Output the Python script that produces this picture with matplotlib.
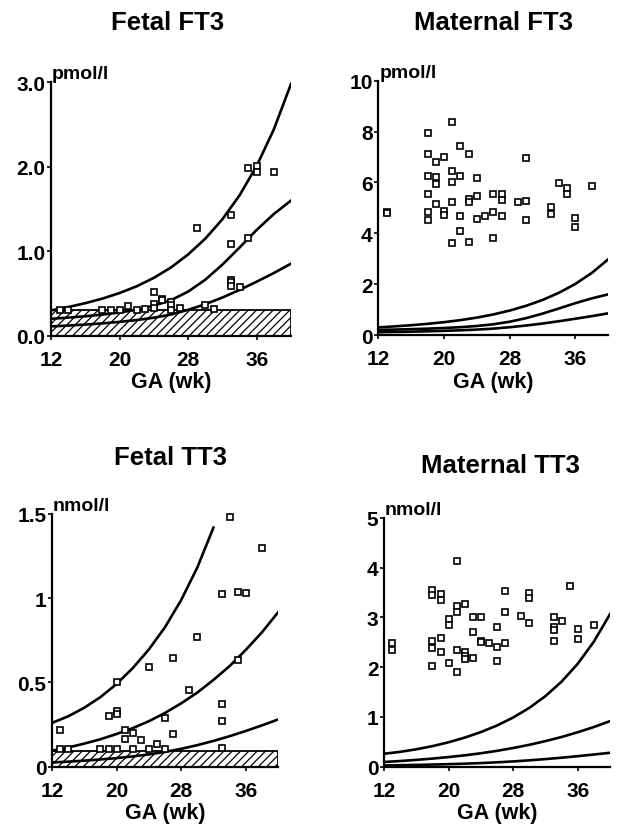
import matplotlib
matplotlib.use('Agg')
import matplotlib.pyplot as plt
from matplotlib.patches import Rectangle

plt.rcParams['font.family'] = ['Liberation Sans', 'DejaVu Sans']
plt.rcParams['font.weight'] = 'bold'
plt.rcParams['hatch.linewidth'] = 0.9

# reference curves (weeks of gestation)
curve_wk = [12, 14, 16, 18, 20, 22, 24, 26, 28, 30, 32, 34, 36, 38, 40]

ft3_hi = [0.30, 0.339, 0.385, 0.439, 0.505, 0.585, 0.685, 0.808, 0.962, 1.149, 1.379, 1.662, 2.011, 2.443, 2.981]
ft3_mid = [0.20, 0.214, 0.230, 0.250, 0.275, 0.308, 0.354, 0.421, 0.522, 0.663, 0.842, 1.044, 1.253, 1.441, 1.600]
ft3_lo = [0.11, 0.120, 0.132, 0.146, 0.164, 0.185, 0.213, 0.251, 0.306, 0.373, 0.452, 0.542, 0.640, 0.742, 0.853]

tt3_hi = [0.26, 0.299, 0.350, 0.413, 0.491, 0.585, 0.696, 0.828, 0.989, 1.182, 1.419, 1.710, 2.069, 2.514, 3.067]
tt3_mid = [0.095, 0.114, 0.137, 0.163, 0.194, 0.229, 0.270, 0.319, 0.376, 0.440, 0.515, 0.597, 0.693, 0.797, 0.916]
tt3_lo = [0.025, 0.030, 0.036, 0.043, 0.051, 0.061, 0.073, 0.088, 0.106, 0.128, 0.153, 0.181, 0.212, 0.245, 0.280]

# fetal upper TT3 curve is only drawn up to 32 wk
fetal_tt3_hi_end = 32

# normal (hatched) ranges
ft3_band = 0.30
tt3_band = 0.095

# fetal FT3 (pmol/l)
f_ft3_x = [13, 14, 18, 19, 20, 21, 22, 23, 24, 24, 24, 25, 25, 26, 26, 26, 27,
           29, 30, 31, 33, 33, 33, 33, 33, 34, 35, 35, 36, 36, 38]
f_ft3_y = [0.31, 0.31, 0.31, 0.31, 0.31, 0.35, 0.31, 0.32, 0.52, 0.37, 0.33, 0.44, 0.42,
           0.40, 0.36, 0.31, 0.33, 1.27, 0.36, 0.32, 1.43, 1.09, 0.66, 0.63, 0.59, 0.58,
           1.98, 1.16, 2.01, 1.94, 1.94]

# maternal FT3 (pmol/l)
m_ft3_x = [13, 13, 18, 18, 18, 18, 18, 18, 19, 19, 19, 19, 20, 20, 20,
           21, 21, 21, 21, 21, 22, 22, 22, 22, 23, 23, 23, 23, 24, 24, 24, 25,
           26, 26, 26, 27, 27, 27, 29, 30, 30, 30, 33, 33, 34, 35, 35, 36, 36, 38]
m_ft3_y = [4.82, 4.78, 7.93, 7.12, 6.26, 5.54, 4.82, 4.52, 6.79, 6.20, 5.94, 5.15, 6.99, 4.89, 4.73,
           8.36, 6.46, 6.00, 5.24, 3.60, 7.44, 6.26, 4.69, 4.08, 7.12, 5.35, 5.22, 3.64,
           6.16, 5.48, 4.56, 4.67, 5.54, 4.85, 3.80, 5.54, 5.29, 4.69, 5.22, 6.95, 5.26, 4.53,
           5.02, 4.76, 5.96, 5.78, 5.53, 4.60, 4.26, 5.86]

# fetal TT3 (nmol/l)
f_tt3_x = [13, 13, 14, 18, 19, 19, 20, 20, 20, 20, 21, 21, 22, 22, 23, 24, 24, 25,
           26, 26, 27, 27, 29, 30, 33, 33, 33, 33, 34, 35, 35, 36, 38]
f_tt3_y = [0.22, 0.105, 0.105, 0.105, 0.30, 0.105, 0.50, 0.33, 0.31, 0.105, 0.22, 0.165,
           0.20, 0.105, 0.16, 0.59, 0.105, 0.135, 0.29, 0.105, 0.645, 0.195, 0.455, 0.77,
           1.025, 0.37, 0.27, 0.11, 1.48, 1.035, 0.635, 1.03, 1.30]

# maternal TT3 (nmol/l)
m_tt3_x = [13, 13, 18, 18, 18, 18, 18, 19, 19, 19, 19, 20, 20, 20,
           21, 21, 21, 21, 21, 22, 22, 22, 22, 23, 23, 23, 24, 24, 24, 25,
           26, 26, 26, 27, 27, 27, 29, 30, 30, 30, 33, 33, 33, 33, 34, 35, 36, 36, 38]
m_tt3_y = [2.48, 2.35, 3.55, 3.45, 2.52, 2.39, 2.02, 3.47, 3.36, 2.59, 2.30, 2.97, 2.84, 2.08,
           4.13, 3.24, 3.12, 2.35, 1.90, 3.27, 2.30, 2.22, 2.16, 3.00, 2.70, 2.18,
           3.00, 2.53, 2.50, 2.49, 2.80, 2.41, 2.12, 3.54, 3.12, 2.49, 3.02, 3.49, 3.40, 2.89,
           3.00, 2.80, 2.75, 2.53, 2.92, 3.63, 2.77, 2.57, 2.84]

W, H = 623, 828
fig = plt.figure(figsize=(W / 100, H / 100), dpi=100, facecolor='white')


def px_axes(left, top, right, bottom):
    return fig.add_axes([left / W, 1 - bottom / H, (right - left) / W, (bottom - top) / H])


def style(ax, ymax, yticks, ylabels, unit):
    ax.set_xlim(12, 40)
    ax.set_ylim(0, ymax)
    ax.set_xticks([12, 20, 28, 36])
    ax.set_yticks(yticks)
    ax.set_yticklabels(ylabels)
    for s in ['top', 'right']:
        ax.spines[s].set_visible(False)
    for s in ['left', 'bottom']:
        ax.spines[s].set_linewidth(1.6)
    ax.tick_params(axis='both', direction='out', length=3, width=1.2, labelsize=15)
    ax.tick_params(axis='x', pad=7)
    ax.tick_params(axis='y', pad=1)
    ax.set_xlabel('GA (wk)', fontsize=15.5, fontweight='bold', labelpad=2)
    ax.annotate(unit, xy=(0, 1), xycoords='axes fraction', xytext=(1, 4),
                textcoords='offset pixels', ha='left', va='baseline', fontsize=14)


def curves(ax, hi, mid, lo, hi_end=40):
    n = curve_wk.index(hi_end) + 1
    ax.plot(curve_wk[:n], hi[:n], color='black', lw=1.9, zorder=2)
    ax.plot(curve_wk, mid, color='black', lw=1.9, zorder=2)
    ax.plot(curve_wk, lo, color='black', lw=1.9, zorder=2)


def points(ax, x, y):
    ax.plot(x, y, 's', ms=4.5, mfc='white', mec='black', mew=1.2, zorder=3, clip_on=False)


# Fetal FT3
ax1 = px_axes(51, 83.3, 291, 336.7)
ax1.add_patch(Rectangle((12, 0), 28, ft3_band, facecolor='none', edgecolor='black',
                        hatch='////', lw=1.3, zorder=1))
curves(ax1, ft3_hi, ft3_mid, ft3_lo)
points(ax1, f_ft3_x, f_ft3_y)
style(ax1, 3.0, [0, 1, 2, 3], ['0.0', '1.0', '2.0', '3.0'], 'pmol/l')

# Maternal FT3
ax2 = px_axes(378.3, 81.7, 608.3, 336)
curves(ax2, ft3_hi, ft3_mid, ft3_lo)
points(ax2, m_ft3_x, m_ft3_y)
style(ax2, 10, [0, 2, 4, 6, 8, 10], ['0', '2', '4', '6', '8', '10'], 'pmol/l')

# Fetal TT3
ax3 = px_axes(52, 515, 278, 767.7)
ax3.add_patch(Rectangle((12, 0), 28, tt3_band, facecolor='none', edgecolor='black',
                        hatch='////', lw=1.3, zorder=1))
curves(ax3, tt3_hi, tt3_mid, tt3_lo, hi_end=fetal_tt3_hi_end)
points(ax3, f_tt3_x, f_tt3_y)
style(ax3, 1.5, [0, 0.5, 1, 1.5], ['0', '0.5', '1', '1.5'], 'nmol/l')

# Maternal TT3
ax4 = px_axes(384, 519, 610, 767.7)
curves(ax4, tt3_hi, tt3_mid, tt3_lo)
points(ax4, m_tt3_x, m_tt3_y)
style(ax4, 5, [0, 1, 2, 3, 4, 5], ['0', '1', '2', '3', '4', '5'], 'nmol/l')

titles = [('Fetal FT3', 168, 30), ('Maternal FT3', 493, 30),
          ('Fetal TT3', 171, 465), ('Maternal TT3', 500, 473)]
for t, x, y in titles:
    fig.text(x / W, 1 - y / H, t, ha='center', va='baseline', fontsize=18.5, fontweight='bold')

fig.savefig('out.png', dpi=100, facecolor='white')
